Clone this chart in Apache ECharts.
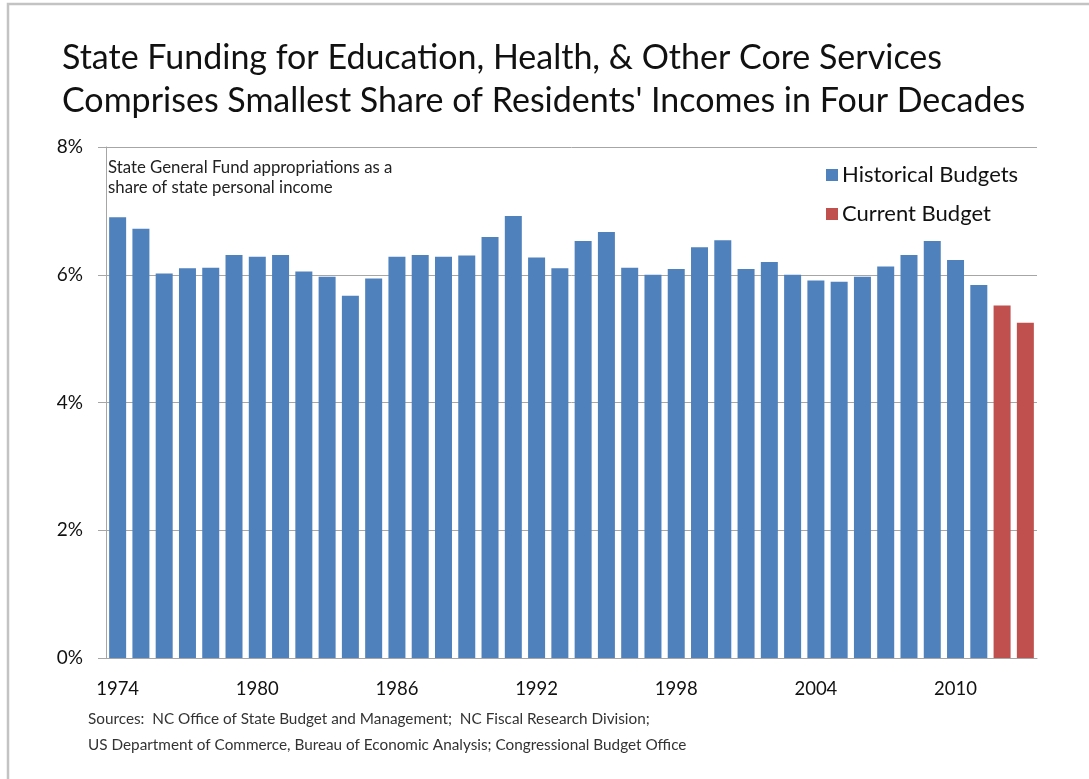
<!DOCTYPE html>
<html>
<head>
<meta charset="utf-8">
<script src="https://cdn.jsdelivr.net/npm/echarts@6/dist/echarts.min.js"></script>
<style>
html,body{margin:0;padding:0;background:#fff;}
#chart{width:1089px;height:779px;}
</style>
</head>
<body>
<div id="chart"></div>
<script>
const years = ['1974','1975','1976','1977','1978','1979','1980','1981','1982','1983',
  '1984','1985','1986','1987','1988','1989','1990','1991','1992','1993',
  '1994','1995','1996','1997','1998','1999','2000','2001','2002','2003',
  '2004','2005','2006','2007','2008','2009','2010','2011','2012','2013'];
const historical = [6.90,6.72,6.02,6.10,6.11,6.31,6.28,6.31,6.05,5.97,
  5.67,5.94,6.28,6.31,6.28,6.30,6.59,6.92,6.27,6.10,
  6.53,6.67,6.11,6.00,6.09,6.43,6.54,6.09,6.20,6.00,
  5.91,5.89,5.97,6.13,6.31,6.53,6.23,5.84,null,null];
const current = [null,null,null,null,null,null,null,null,null,null,
  null,null,null,null,null,null,null,null,null,null,
  null,null,null,null,null,null,null,null,null,null,
  null,null,null,null,null,null,null,null,5.52,5.25];
const seriesNames = ['Historical Budgets','Current Budget'];
const titleLines = ['State Funding for Education, Health, & Other Core Services',
  "Comprises Smallest Share of Residents' Incomes in Four Decades"];
const noteLines = ['State General Fund appropriations as a','share of state personal income'];
const sourceLines = ['Sources:  NC Office of State Budget and Management;  NC Fiscal Research Division;',
  'US Department of Commerce, Bureau of Economic Analysis; Congressional Budget Office'];

const FONT = 'Lato';
const chart = echarts.init(document.getElementById('chart'));
chart.setOption({
  animation: false,
  backgroundColor: '#ffffff',
  textStyle: { fontFamily: FONT },
  title: {
    text: titleLines.join('\n'),
    left: 57, top: 32,
    textStyle: { fontFamily: FONT, fontSize: 34, fontWeight: 'normal', color: '#111', lineHeight: 43 }
  },
  legend: {
    orient: 'vertical',
    left: 821, top: 159,
    itemWidth: 12, itemHeight: 12, itemGap: 17,
    icon: 'rect',
    data: seriesNames,
    textStyle: { fontFamily: FONT, fontSize: 22, color: '#111', padding: [0,0,0,-1] }
  },
  grid: { left: 106, right: 52, top: 147, bottom: 121, containLabel: false },
  xAxis: {
    type: 'category',
    data: years,
    axisLine: { show: true, lineStyle: { color: '#a6a6a6', width: 1 } },
    axisTick: { show: false },
    axisLabel: { interval: 5, margin: 22, fontSize: 18.5, color: '#111', fontFamily: FONT }
  },
  yAxis: {
    type: 'value',
    min: 0, max: 8, interval: 2,
    axisLine: { show: true, lineStyle: { color: '#a6a6a6', width: 1 } },
    axisTick: { show: true, inside: false, length: 8, lineStyle: { color: '#a6a6a6' } },
    splitLine: { show: true, lineStyle: { color: '#a6a6a6', width: 1 } },
    axisLabel: { formatter: '{value}%', margin: 23, fontSize: 19, color: '#111', fontFamily: FONT }
  },
  series: [
    { name: seriesNames[0], type: 'bar', stack: 's', data: historical, barWidth: 17,
      itemStyle: { color: '#4f81bd' } },
    { name: seriesNames[1], type: 'bar', stack: 's', data: current, barWidth: 17,
      itemStyle: { color: '#c0504d' } }
  ],
  graphic: [
    { type: 'rect', shape: { x: 8, y: 4, width: 1200, height: 900 }, silent: true,
      style: { fill: 'none', stroke: '#c3c3c3', lineWidth: 2.5 } },
    { type: 'text', left: 108, top: 158,
      style: { text: noteLines.join('\n'), fontFamily: FONT, fontSize: 16.8, lineHeight: 20, fill: '#222' } },
    { type: 'text', left: 88, top: 706,
      style: { text: sourceLines.join('\n'), fontFamily: FONT, fontSize: 15.3, lineHeight: 26, fill: '#333' } }
  ]
});
</script>
</body>
</html>
